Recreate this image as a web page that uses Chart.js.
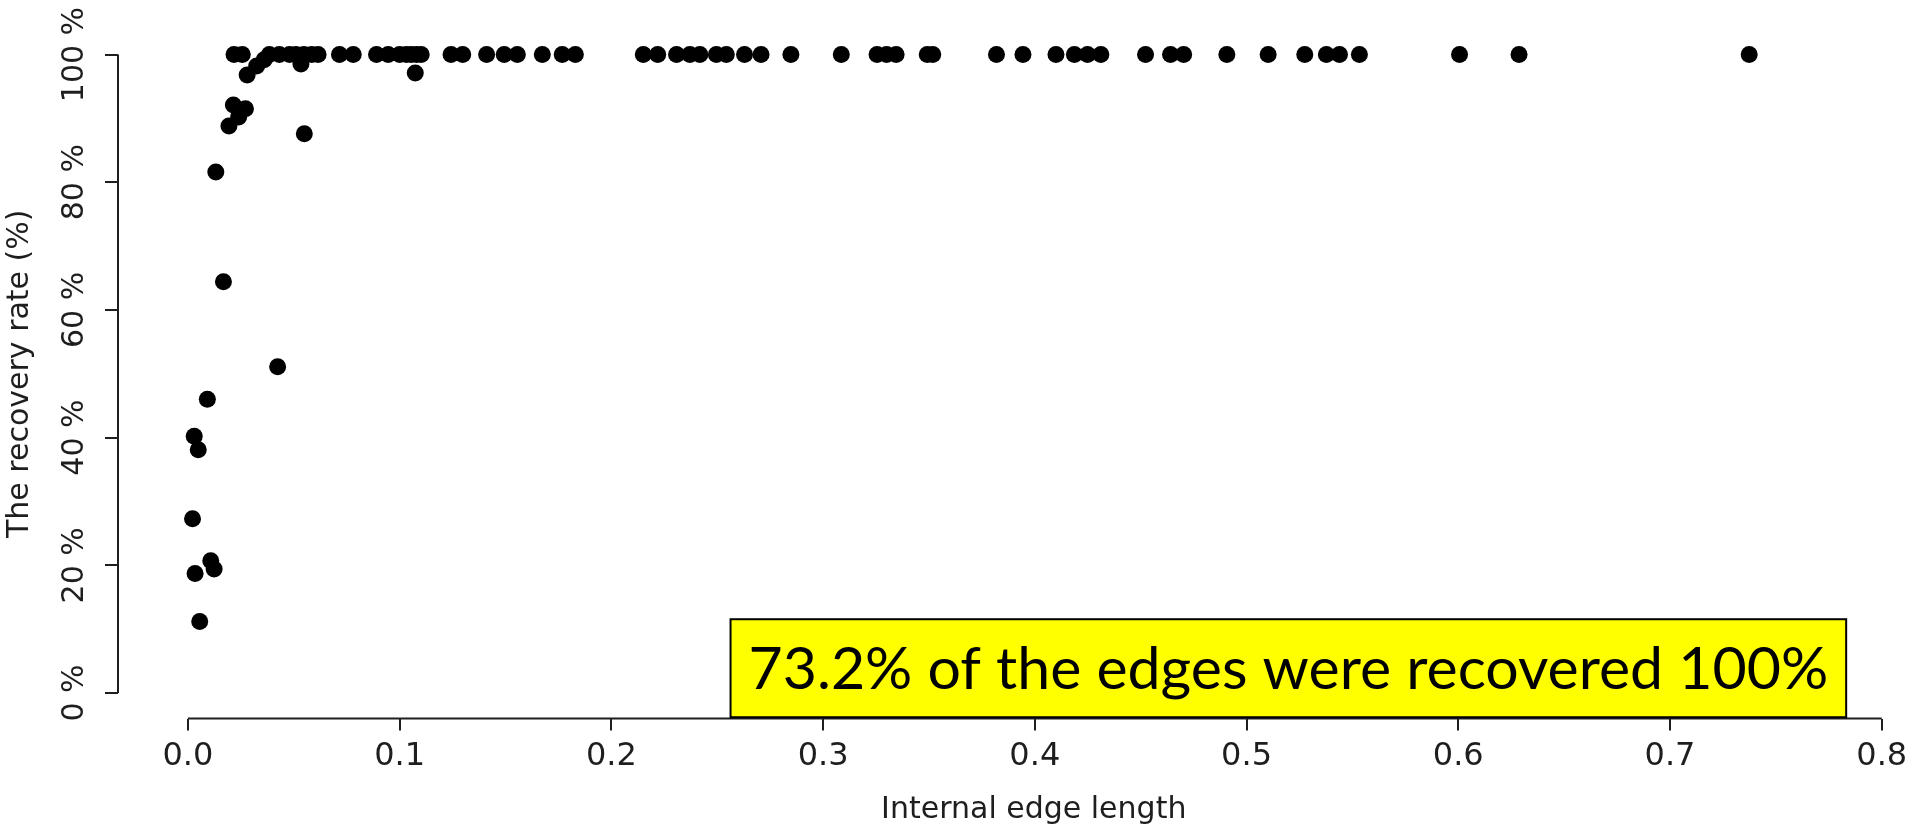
<!DOCTYPE html>
<html>
<head>
<meta charset="utf-8">
<title>Recovery rate vs internal edge length</title>
<script src="https://cdn.jsdelivr.net/npm/chart.js@4.4.1/dist/chart.umd.min.js"></script>
<style>
  html, body { margin: 0; padding: 0; background: #fff; overflow: hidden; }
  #plot { display: block; }
</style>
</head>
<body>
<!-- the R plot region runs a little past the right edge of the slide, so the canvas does too -->
<canvas id="plot" width="1958" height="828"></canvas>
<script>
'use strict';

// internal edges that were recovered 100 %
const fullLengths = [
    0.0218, 0.0257, 0.0385, 0.0432, 0.0480, 0.0510, 0.0548, 0.0585, 0.0615, 0.0716,
    0.0781, 0.0891, 0.0946, 0.1000, 0.1032, 0.1055, 0.1080, 0.1102, 0.1243, 0.1298,
    0.1411, 0.1494, 0.1556, 0.1674, 0.1768, 0.1830, 0.2151, 0.2219, 0.2308, 0.2371,
    0.2418, 0.2496, 0.2543, 0.2629, 0.2707, 0.2848, 0.3086, 0.3255, 0.3300, 0.3345,
    0.3492, 0.3518, 0.3819, 0.3944, 0.4100, 0.4187, 0.4249, 0.4312, 0.4523, 0.4641,
    0.4703, 0.4907, 0.5102, 0.5275, 0.5377, 0.5439, 0.5533, 0.6006, 0.6287, 0.7374
];

// internal edges recovered below 100 %
const partialLengths = [
    0.0280, 0.0325, 0.0360, 0.0534, 0.1074, 0.0215, 0.0272, 0.0240, 0.0194, 0.0550,
    0.0132, 0.0168, 0.0424, 0.0092, 0.0030, 0.0049, 0.0022, 0.0108, 0.0124, 0.0034,
    0.0056
];
const partialRates = [
    96.8, 98.2, 99.2, 98.5, 97.1, 92.1, 91.5, 90.2, 88.8, 87.6,
    81.6, 64.4, 51.1, 46.0, 40.2, 38.1, 27.3, 20.7, 19.4, 18.7,
    11.2
];

const xTicks = [0, 0.1, 0.2, 0.3, 0.4, 0.5, 0.6, 0.7, 0.8];
const yTicks = [0, 20, 40, 60, 80, 100];

const xTitle = 'Internal edge length';
const yTitle = 'The recovery rate (%)';
const noteText = '73.2% of the edges were recovered 100%';

const inkColor = '#1e1e1e';
const titleFont = { family: 'DejaVu Sans', size: 30 };
const tickFont = { family: 'DejaVu Sans', size: 32 };

const points = fullLengths.map(v => ({ x: v, y: 100 }))
    .concat(partialLengths.map((v, i) => ({ x: v, y: partialRates[i] })));

// R draws its axis lines only from the first to the last tick, and the y labels turned upright
const rAxes = {
    id: 'rAxes',
    afterDraw(chart) {
        const { ctx, chartArea, scales: { x, y } } = chart;
        ctx.save();
        ctx.strokeStyle = inkColor;
        ctx.lineWidth = 2;
        ctx.beginPath();
        ctx.moveTo(x.getPixelForValue(xTicks[0]), chartArea.bottom);
        ctx.lineTo(x.getPixelForValue(xTicks[xTicks.length - 1]), chartArea.bottom);
        ctx.moveTo(chartArea.left, y.getPixelForValue(yTicks[0]));
        ctx.lineTo(chartArea.left, y.getPixelForValue(yTicks[yTicks.length - 1]));
        ctx.stroke();

        ctx.fillStyle = inkColor;
        ctx.font = `30px "DejaVu Sans"`;
        ctx.textAlign = 'center';
        ctx.textBaseline = 'middle';
        yTicks.forEach(v => {
            ctx.save();
            ctx.translate(chartArea.left - 43, y.getPixelForValue(v));
            ctx.rotate(-Math.PI / 2);
            ctx.fillText(`${v} %`, 0, 0);
            ctx.restore();
        });
        ctx.restore();
    }
};

const noteBox = {
    id: 'noteBox',
    afterDraw(chart, args, opts) {
        const { ctx, scales: { x, y } } = chart;
        const left = x.getPixelForValue(opts.from[0]);
        const right = x.getPixelForValue(opts.to[0]);
        const top = y.getPixelForValue(opts.to[1]);
        const bottom = y.getPixelForValue(opts.from[1]);
        ctx.save();
        ctx.fillStyle = '#ffff00';
        ctx.fillRect(left, top, right - left, bottom - top);
        ctx.strokeStyle = '#000';
        ctx.lineWidth = 2;
        ctx.strokeRect(left, top, right - left, bottom - top);
        ctx.fillStyle = '#000';
        ctx.font = '59px Lato';
        ctx.textAlign = 'center';
        ctx.textBaseline = 'middle';
        ctx.fillText(opts.text, (left + right) / 2, (top + bottom) / 2 + 2);
        ctx.restore();
    }
};

new Chart(document.getElementById('plot'), {
    type: 'scatter',
    data: {
        datasets: [{
            data: points,
            backgroundColor: '#000',
            borderWidth: 0,
            pointRadius: 8.5,
            pointHoverRadius: 8.5,
        }]
    },
    options: {
        responsive: false,
        animation: false,
        devicePixelRatio: 1,
        events: [],
        layout: { padding: { top: 29, right: 0, bottom: 0, left: 0 } },
        plugins: {
            legend: { display: false },
            tooltip: { enabled: false },
            noteBox: { text: noteText, from: [0.2563, -3.8], to: [0.7832, 11.55] },
        },
        scales: {
            x: {
                type: 'linear',
                min: -0.033,
                max: 0.832,
                afterBuildTicks: s => { s.ticks = xTicks.map(v => ({ value: v })); },
                afterFit: s => { s.height = 109.5; },
                border: { display: false },
                grid: { drawOnChartArea: false, tickLength: 12, color: inkColor, lineWidth: 2 },
                ticks: {
                    color: inkColor,
                    font: tickFont,
                    padding: 7,
                    maxRotation: 0,
                    autoSkip: false,
                    callback: v => v.toFixed(1),
                },
                title: {
                    display: true,
                    text: xTitle,
                    color: inkColor,
                    font: titleFont,
                    padding: { top: 0, bottom: 0 },
                },
            },
            y: {
                type: 'linear',
                min: -4,
                max: 104,
                afterBuildTicks: s => { s.ticks = yTicks.map(v => ({ value: v })); },
                afterFit: s => { s.width = 118; },
                border: { display: false },
                grid: { drawOnChartArea: false, tickLength: 13, color: inkColor, lineWidth: 2 },
                ticks: { display: false },
                title: {
                    display: true,
                    text: yTitle,
                    color: inkColor,
                    font: titleFont,
                    padding: { top: 2, bottom: 0 },
                },
            },
        },
    },
    plugins: [rAxes, noteBox],
});
</script>
</body>
</html>
